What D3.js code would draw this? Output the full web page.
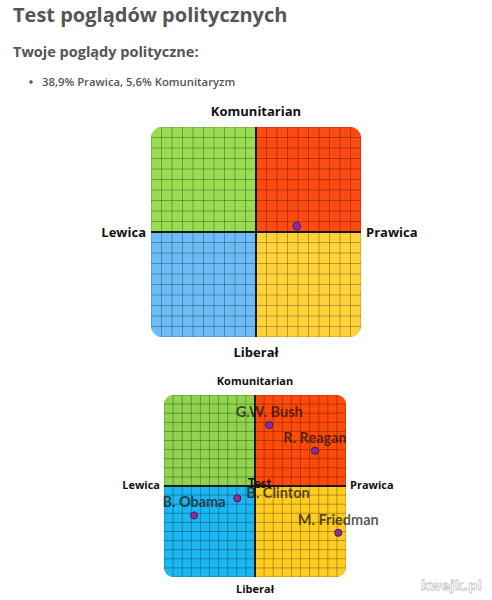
<!DOCTYPE html>
<html>
<head>
<meta charset="utf-8">
<script src="https://cdn.jsdelivr.net/npm/d3@7"></script>
<style>
  html, body { margin: 0; padding: 0; background: #fff; }
  svg { display: block; }
</style>
</head>
<body>
<svg id="chart" width="492" height="600"></svg>
<script>
// ---------- data ----------
const titleText = "Test poglądów politycznych";
const subtitleText = "Twoje poglądy polityczne:";
const resultText = "38,9% Prawica, 5,6% Komunitaryzm";

const axisLabels = ["Komunitarian", "Lewica", "Prawica", "Liberał"]; // top, left, right, bottom
const axisDomain = [-100, 100];
const gridTicks = d3.range(-100, 101, 10);

// user's result (top chart): x = Prawica %, y = Komunitaryzm %
const userX = [38.9];
const userY = [5.6];

// comparison chart
const personNames = ["G.W. Bush", "R. Reagan", "B. Clinton", "B. Obama", "M. Friedman"];
const personX = [15.7, 66, -19.4, -67, 91.5];
const personY = [67, 38.7, -13.4, -32.4, -51.4];
const personAnchor = ["middle", "middle", "start", "middle", "middle"];
const testLabel = ["Test"];
const testX = [5];
const testY = [-2];

// ---------- drawing ----------
const svg = d3.select("#chart");

svg.append("text").attr("x", 13).attr("y", 22)
  .attr("font-family", "Open Sans").attr("font-weight", 700).attr("font-size", 20)
  .attr("fill", "#555").text(titleText);
svg.append("text").attr("x", 13).attr("y", 57)
  .attr("font-family", "Open Sans").attr("font-weight", 700).attr("font-size", 14.5)
  .attr("fill", "#555").text(subtitleText);
svg.append("circle").attr("cx", 31).attr("cy", 82).attr("r", 1.8).attr("fill", "#555");
svg.append("text").attr("x", 42).attr("y", 86)
  .attr("font-family", "Open Sans").attr("font-weight", 600).attr("font-size", 11.3)
  .attr("fill", "#555").text(resultText);

function drawCompass(cfg) {
  const g = svg.append("g");
  const x = d3.scaleLinear().domain(axisDomain).range([cfg.left, cfg.left + cfg.size]);
  const y = d3.scaleLinear().domain(axisDomain).range([cfg.top + cfg.size, cfg.top]);
  const clipId = "clip" + cfg.id;
  svg.append("defs").append("clipPath").attr("id", clipId)
    .append("rect").attr("x", x(-100)).attr("y", y(100))
    .attr("width", cfg.size).attr("height", cfg.size).attr("rx", cfg.radius).attr("ry", cfg.radius);
  const plot = g.append("g").attr("clip-path", `url(#${clipId})`);
  const quads = [
    {x0: -100, x1: 0, y0: 0, y1: 100, c: cfg.colors[0]},
    {x0: 0, x1: 100, y0: 0, y1: 100, c: cfg.colors[1]},
    {x0: -100, x1: 0, y0: -100, y1: 0, c: cfg.colors[2]},
    {x0: 0, x1: 100, y0: -100, y1: 0, c: cfg.colors[3]}
  ];
  plot.selectAll("rect.q").data(quads).join("rect").attr("class", "q")
    .attr("x", d => x(d.x0)).attr("y", d => y(d.y1))
    .attr("width", d => x(d.x1) - x(d.x0)).attr("height", d => y(d.y0) - y(d.y1))
    .attr("fill", d => d.c);
  plot.selectAll("line.gv").data(gridTicks).join("line").attr("class", "gv")
    .attr("x1", d => x(d)).attr("x2", d => x(d)).attr("y1", y(100)).attr("y2", y(-100))
    .attr("stroke", "#000").attr("stroke-opacity", 0.28).attr("stroke-width", 1);
  plot.selectAll("line.gh").data(gridTicks).join("line").attr("class", "gh")
    .attr("y1", d => y(d)).attr("y2", d => y(d)).attr("x1", x(-100)).attr("x2", x(100))
    .attr("stroke", "#000").attr("stroke-opacity", 0.28).attr("stroke-width", 1);
  g.append("line").attr("x1", x(0)).attr("x2", x(0)).attr("y1", y(100)).attr("y2", y(-100))
    .attr("stroke", "#1a1a1a").attr("stroke-width", 2);
  g.append("line").attr("x1", x(-100)).attr("x2", x(100)).attr("y1", y(0)).attr("y2", y(0))
    .attr("stroke", "#1a1a1a").attr("stroke-width", 2);

  const lbl = (tx, ty, anchor, t) => g.append("text").attr("x", tx).attr("y", ty)
    .attr("text-anchor", anchor).attr("font-family", "Open Sans").attr("font-weight", 700)
    .attr("font-size", cfg.labelSize).attr("fill", "#111").text(t);
  lbl(x(0), y(100) - cfg.topGap, "middle", axisLabels[0]);
  lbl(x(-100) - cfg.sideGap, y(0) + cfg.sideDy, "end", axisLabels[1]);
  lbl(x(100) + cfg.sideGap, y(0) + cfg.sideDy, "start", axisLabels[2]);
  lbl(x(0), y(-100) + cfg.bottomGap, "middle", axisLabels[3]);
  return {g, x, y};
}

// top chart
const chartA = drawCompass({
  id: "A", left: 151, top: 127, size: 210, radius: 11,
  colors: ["#98dc52", "#ff4a12", "#6cbcf8", "#ffd23a"],
  labelSize: 13, topGap: 11, sideGap: 5, sideDy: 4.5, bottomGap: 20
});
chartA.g.selectAll("circle.user").data(userX).join("circle").attr("class", "user")
  .attr("cx", (d) => chartA.x(d)).attr("cy", (d, i) => chartA.y(userY[i])).attr("r", 4)
  .attr("fill", "#8a2f9a").attr("stroke", "#5a1a70").attr("stroke-width", 1);

// bottom chart
const chartB = drawCompass({
  id: "B", left: 164, top: 395, size: 182, radius: 9,
  colors: ["#8fd34e", "#ff4a0a", "#1cb6f0", "#ffcc22"],
  labelSize: 11, topGap: 10, sideGap: 4, sideDy: 3, bottomGap: 16
});
const people = personNames.map((n, i) => ({n, x: personX[i], y: personY[i], a: personAnchor[i]}));
chartB.g.selectAll("circle.p").data(people).join("circle").attr("class", "p")
  .attr("cx", d => chartB.x(d.x)).attr("cy", d => chartB.y(d.y)).attr("r", 3.6)
  .attr("fill", "#8a2f9a").attr("stroke", "#4a1a60").attr("stroke-width", 1);
chartB.g.selectAll("text.tl").data(testLabel).join("text").attr("class", "tl")
  .attr("x", (d, i) => chartB.x(testX[i])).attr("y", (d, i) => chartB.y(testY[i]))
  .attr("text-anchor", "middle").attr("font-family", "Lato").attr("font-weight", 700)
  .attr("font-size", 13).attr("fill", "#111").text(d => d);
chartB.g.selectAll("text.pl").data(people).join("text").attr("class", "pl")
  .attr("x", d => chartB.x(d.x) + (d.a === "start" ? 9 : 0))
  .attr("y", d => chartB.y(d.y) + (d.a === "start" ? 0 : -8))
  .attr("text-anchor", d => d.a).attr("font-family", "Lato").attr("font-weight", 700)
  .attr("font-size", 14.5).attr("fill", "#1a1208").attr("fill-opacity", 0.72).text(d => d.n);

// watermark
svg.append("text").attr("x", 482).attr("y", 590).attr("text-anchor", "end")
  .attr("font-family", "DejaVu Sans").attr("font-weight", 700).attr("font-size", 13)
  .attr("fill", "#fff").attr("stroke", "#c8c8c8").attr("stroke-width", 0.8).text("kwejk.pl");
</script>
</body>
</html>
